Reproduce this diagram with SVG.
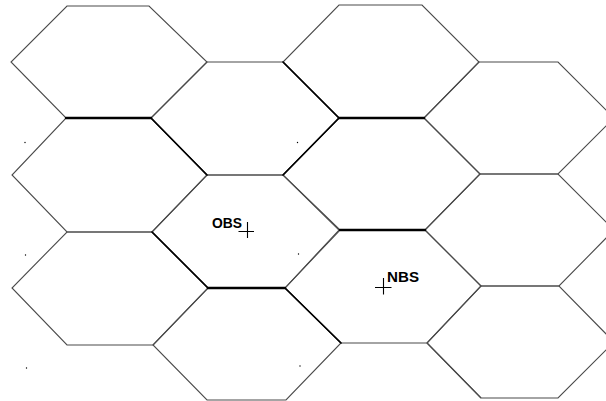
<svg xmlns="http://www.w3.org/2000/svg" width="606" height="401" viewBox="0 0 606 401">
<style>
.hex{fill:none;stroke:#4a4a4a;stroke-width:1.1;stroke-linejoin:miter}
.thick{fill:none;stroke:#000;stroke-width:2.4;stroke-linecap:round}
.dark{fill:none;stroke:#000;stroke-width:1.6;stroke-linecap:round}
.lbl{font-family:"Liberation Sans",Arial,sans-serif;font-weight:bold;font-size:14.5px;fill:#000}
.mark{stroke:#000;stroke-width:1.1;fill:none}
.dot{fill:#000}
</style>
<rect width="606" height="401" fill="#fff"/>
<g id="cell-A1"><polygon class="hex" points="67,6 149,6 207,62 151,118 66,118 11,62"/></g>
<g id="cell-A2"><polygon class="hex" points="66,118 151,118 207,175 152,232 67,232 12,175"/></g>
<g id="cell-A3"><polygon class="hex" points="67,232 152,232 208,288 153,345 67,345 12,288"/></g>
<g id="cell-B1"><polygon class="hex" points="207,62 283,62 339,118 283,175 207,175 151,118"/></g>
<g id="cell-B2"><polygon class="hex" points="207,175 283,175 339,230 285,288 208,288 152,232"/></g>
<g id="cell-B3"><polygon class="hex" points="208,288 285,288 341,343 286,400 207,400 153,345"/></g>
<g id="cell-C0"><polygon class="hex" points="339,5 422,5 479,62 424,118 339,118 283,62"/></g>
<g id="cell-C1"><polygon class="hex" points="339,118 424,118 480,174 425,230 340,230 283,175"/></g>
<g id="cell-C2"><polygon class="hex" points="340,230 425,230 481,286 427,343 341,343 285,288"/></g>
<g id="cell-C3"><polyline class="hex" points="427,343 481,398"/></g>
<g id="cell-D1"><polygon class="hex" points="479,62 558,62 614,118 558,174 480,174 424,118"/></g>
<g id="cell-D2"><polygon class="hex" points="480,174 558,174 614,230 559,286 481,286 425,230"/></g>
<g id="cell-D3"><polygon class="hex" points="481,286 559,286 614,342 558,398 481,398 427,343"/></g>
<g id="connectors">
<line class="thick" x1="66" y1="118" x2="151" y2="118"/>
<line class="dark" x1="151" y1="118" x2="207" y2="175"/>
<line class="dark" x1="283" y1="62" x2="339" y2="118"/>
<line class="thick" x1="339" y1="118" x2="424" y2="118"/>
<line class="dark" x1="339" y1="118" x2="283" y2="175"/>
<line class="thick" x1="340" y1="230" x2="425" y2="230"/>
<line class="dark" x1="152" y1="232" x2="208" y2="288"/>
<line class="thick" x1="208" y1="288" x2="285" y2="288"/>
<line class="dark" x1="285" y1="288" x2="341" y2="343"/>
</g>
<g id="dots">
<circle class="dot" cx="25" cy="142.5" r="0.7"/>
<circle class="dot" cx="297.5" cy="142.5" r="0.7"/>
<circle class="dot" cx="25.5" cy="255" r="0.7"/>
<circle class="dot" cx="298.5" cy="254" r="0.7"/>
<circle class="dot" cx="26.5" cy="368" r="0.7"/>
<circle class="dot" cx="300" cy="366" r="0.7"/>
</g>
<g id="OBS">
<text class="lbl" x="212" y="227.5" textLength="30" lengthAdjust="spacingAndGlyphs">OBS</text>
<path class="mark" d="M238.5,231.5 H254 M247.5,222 V238"/>
</g>
<g id="NBS">
<text class="lbl" x="387" y="281.5" textLength="32" lengthAdjust="spacingAndGlyphs">NBS</text>
<path class="mark" d="M375,287.5 H391.5 M383.5,278 V294.5"/>
</g>
</svg>
